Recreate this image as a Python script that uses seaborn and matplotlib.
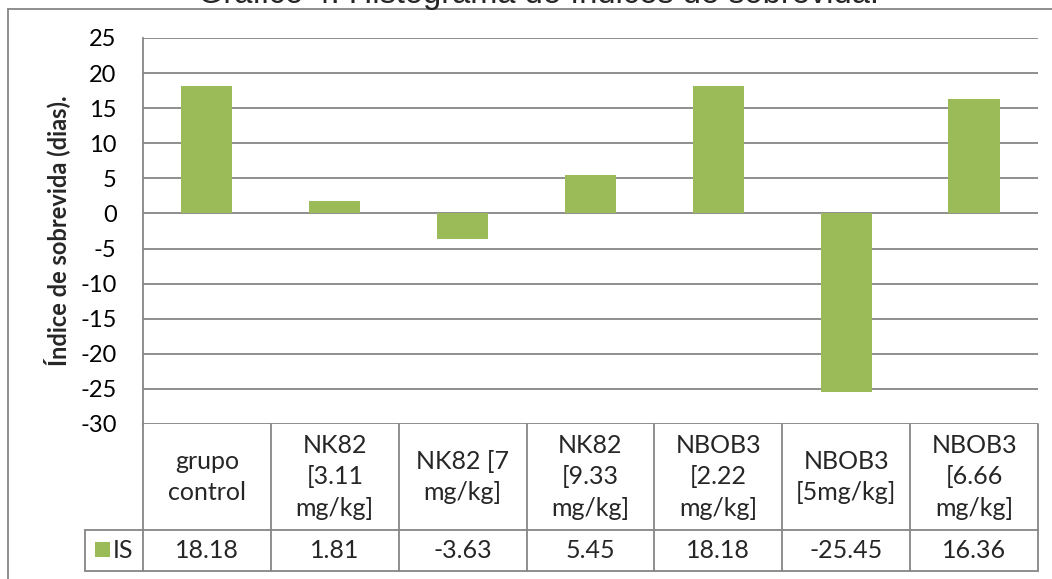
import matplotlib
matplotlib.use("Agg")
import matplotlib.pyplot as plt
import matplotlib.transforms as mtransforms
from matplotlib.lines import Line2D
from matplotlib.patches import Rectangle
import seaborn as sns
import pandas as pd

# Survival index per treatment group
categories = [
    "grupo\ncontrol",
    "NK82\n[3.11\nmg/kg]",
    "NK82 [7\nmg/kg]",
    "NK82\n[9.33\nmg/kg]",
    "NBOB3\n[2.22\nmg/kg]",
    "NBOB3\n[5mg/kg]",
    "NBOB3\n[6.66\nmg/kg]",
]
is_values = [18.18, 1.81, -3.63, 5.45, 18.18, -25.45, 16.36]
series_name = "IS"
y_ticks = [25, 20, 15, 10, 5, 0, -5, -10, -15, -20, -25, -30]

title = "Gráfico 4. Histograma de índices de sobrevida."
y_label = "Índice de sobrevida (dias)."

W, H = 1052, 579
BAR = "#9BBB59"
GRID = "#868686"
FONT = "Lato"

sns.set_theme(style="white")
plt.rcParams["font.family"] = [FONT, "DejaVu Sans"]

df = pd.DataFrame({"grupo": categories, "IS": is_values})

fig = plt.figure(figsize=(W / 100, H / 100), dpi=100)
fig.patch.set_facecolor("white")


def fx(px):
    return px / W


def fy(py):
    return 1 - py / H


ax = fig.add_axes([fx(143), fy(424), fx(1038) - fx(143), fy(38) - fy(424)])

sns.barplot(data=df, x="grupo", y="IS", color=BAR, width=0.4,
            saturation=1, ax=ax, zorder=3, linewidth=0)

ax.set_xlim(-0.5, len(categories) - 0.5)
ax.set_ylim(min(y_ticks), max(y_ticks))
ax.set_yticks(y_ticks)
ax.set_yticklabels([str(t) for t in y_ticks], fontsize=17)
ax.tick_params(axis="y", length=0, pad=19, colors="black")
ax.set_xticks([])
ax.set_xlabel("")
ax.set_ylabel(y_label, fontsize=17, fontweight="bold", labelpad=7)

for t in y_ticks:
    ax.axhline(t, color=GRID, lw=1.3, zorder=1)
for s in ["top", "right", "bottom"]:
    ax.spines[s].set_visible(False)
ax.spines["left"].set_color(GRID)
ax.spines["left"].set_linewidth(1.3)
ax.set_facecolor("white")

# Data table under the plot area
tr = mtransforms.blended_transform_factory(ax.transData, fig.transFigure)
n = len(categories)
lkw = dict(color=GRID, lw=1.3, clip_on=False)
for k in range(n + 1):
    fig.add_artist(Line2D([k - 0.5, k - 0.5], [fy(424), fy(571)], transform=tr, **lkw))
for py in (530, 571):
    fig.add_artist(Line2D([fx(85), fx(1038)], [fy(py), fy(py)],
                          transform=fig.transFigure, **lkw))
fig.add_artist(Line2D([fx(85), fx(85)], [fy(530), fy(571)],
                      transform=fig.transFigure, **lkw))

for k, (lab, v) in enumerate(zip(categories, is_values)):
    fig.text(k, fy(477), lab, transform=tr, ha="center", va="center",
             fontsize=18, linespacing=1.45)
    fig.text(k, fy(551), f"{v:.2f}", transform=tr, ha="center", va="center",
             fontsize=18)

# Legend key inside the table
fig.add_artist(Rectangle((fx(95), fy(557)), fx(15), fy(542) - fy(557),
                         transform=fig.transFigure, color=BAR, lw=0))
fig.text(fx(113), fy(551), series_name, ha="left", va="center", fontsize=18)

# Chart frame
fig.add_artist(Line2D([fx(8), fx(8)], [fy(9), fy(H)], transform=fig.transFigure, **lkw))
fig.add_artist(Line2D([fx(8), fx(W)], [fy(9), fy(9)], transform=fig.transFigure, **lkw))

fig.text(fx(539), fy(3), title, ha="center", va="baseline", fontsize=23.5,
         family=["Liberation Sans", "DejaVu Sans"])

fig.savefig("out.png", dpi=100, facecolor="white")
